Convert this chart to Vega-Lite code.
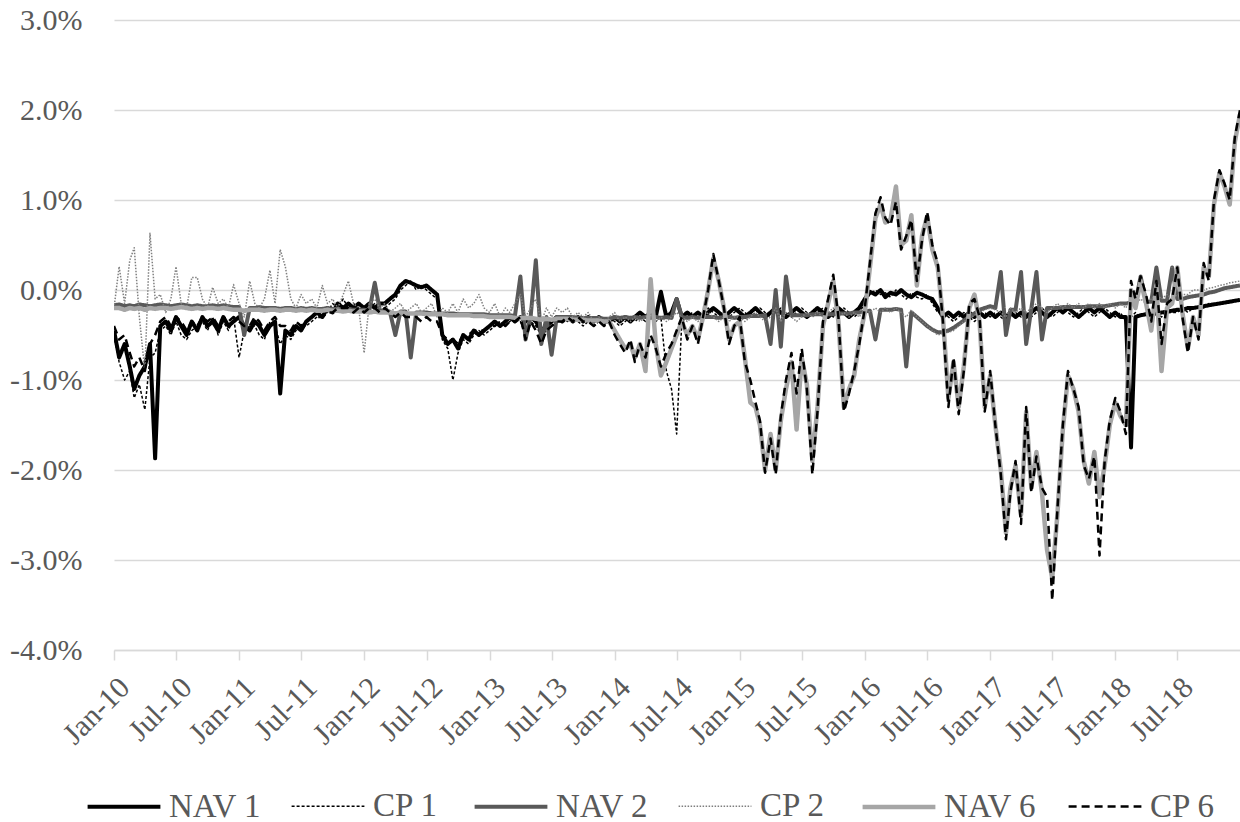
{
"$schema":"https://vega.github.io/schema/vega-lite/v6.json",
"width":1126,"height":630,
"autosize":{"type":"none"},
"padding":{"left":114,"top":20,"right":0,"bottom":172},
"background":"#ffffff",
"config":{"view":{"stroke":null},"font":"Liberation Serif"},
"data":{"values":[
{"d":"2010-01-01","NAV 1":-0.45,"CP 1":-0.5,"NAV 2":-0.17,"CP 2":-0.2,"NAV 6":-0.2,"CP 6":-0.4},
{"d":"2010-01-16","NAV 1":-0.75,"CP 1":-0.8,"NAV 2":-0.16,"CP 2":0.26,"NAV 6":-0.2,"CP 6":-0.55},
{"d":"2010-02-01","NAV 1":-0.6,"CP 1":-1.0,"NAV 2":-0.18,"CP 2":-0.15,"NAV 6":-0.22,"CP 6":-0.5},
{"d":"2010-02-16","NAV 1":-0.85,"CP 1":-0.9,"NAV 2":-0.17,"CP 2":0.33,"NAV 6":-0.2,"CP 6":-0.7},
{"d":"2010-03-01","NAV 1":-1.1,"CP 1":-1.2,"NAV 2":-0.18,"CP 2":0.47,"NAV 6":-0.21,"CP 6":-0.85},
{"d":"2010-03-16","NAV 1":-0.95,"CP 1":-1.05,"NAV 2":-0.16,"CP 2":-0.3,"NAV 6":-0.2,"CP 6":-0.75},
{"d":"2010-04-01","NAV 1":-0.85,"CP 1":-1.33,"NAV 2":-0.17,"CP 2":-0.9,"NAV 6":-0.22,"CP 6":-0.9},
{"d":"2010-04-16","NAV 1":-0.6,"CP 1":-0.75,"NAV 2":-0.18,"CP 2":0.63,"NAV 6":-0.2,"CP 6":-0.6},
{"d":"2010-05-01","NAV 1":-1.87,"CP 1":-0.7,"NAV 2":-0.17,"CP 2":-0.1,"NAV 6":-0.21,"CP 6":-0.5},
{"d":"2010-05-16","NAV 1":-0.4,"CP 1":-0.45,"NAV 2":-0.16,"CP 2":-0.05,"NAV 6":-0.2,"CP 6":-0.35},
{"d":"2010-06-01","NAV 1":-0.35,"CP 1":-0.4,"NAV 2":-0.17,"CP 2":-0.25,"NAV 6":-0.2,"CP 6":-0.3},
{"d":"2010-06-16","NAV 1":-0.45,"CP 1":-0.5,"NAV 2":-0.18,"CP 2":-0.1,"NAV 6":-0.21,"CP 6":-0.4},
{"d":"2010-07-01","NAV 1":-0.3,"CP 1":-0.35,"NAV 2":-0.17,"CP 2":0.26,"NAV 6":-0.2,"CP 6":-0.3},
{"d":"2010-07-16","NAV 1":-0.4,"CP 1":-0.5,"NAV 2":-0.16,"CP 2":-0.15,"NAV 6":-0.19,"CP 6":-0.35},
{"d":"2010-08-01","NAV 1":-0.5,"CP 1":-0.55,"NAV 2":-0.17,"CP 2":-0.2,"NAV 6":-0.2,"CP 6":-0.45},
{"d":"2010-08-16","NAV 1":-0.35,"CP 1":-0.45,"NAV 2":-0.18,"CP 2":0.14,"NAV 6":-0.21,"CP 6":-0.35},
{"d":"2010-09-01","NAV 1":-0.45,"CP 1":-0.4,"NAV 2":-0.17,"CP 2":0.14,"NAV 6":-0.2,"CP 6":-0.4},
{"d":"2010-09-16","NAV 1":-0.3,"CP 1":-0.35,"NAV 2":-0.18,"CP 2":-0.1,"NAV 6":-0.21,"CP 6":-0.3},
{"d":"2010-10-01","NAV 1":-0.4,"CP 1":-0.45,"NAV 2":-0.18,"CP 2":-0.2,"NAV 6":-0.2,"CP 6":-0.35},
{"d":"2010-10-16","NAV 1":-0.35,"CP 1":-0.3,"NAV 2":-0.17,"CP 2":0.03,"NAV 6":-0.2,"CP 6":-0.3},
{"d":"2010-11-01","NAV 1":-0.45,"CP 1":-0.5,"NAV 2":-0.18,"CP 2":-0.15,"NAV 6":-0.21,"CP 6":-0.4},
{"d":"2010-11-16","NAV 1":-0.3,"CP 1":-0.35,"NAV 2":-0.17,"CP 2":-0.1,"NAV 6":-0.2,"CP 6":-0.3},
{"d":"2010-12-01","NAV 1":-0.4,"CP 1":-0.45,"NAV 2":-0.18,"CP 2":-0.2,"NAV 6":-0.21,"CP 6":-0.35},
{"d":"2010-12-16","NAV 1":-0.35,"CP 1":-0.3,"NAV 2":-0.19,"CP 2":0.06,"NAV 6":-0.22,"CP 6":-0.3},
{"d":"2011-01-01","NAV 1":-0.3,"CP 1":-0.75,"NAV 2":-0.19,"CP 2":-0.15,"NAV 6":-0.22,"CP 6":-0.35},
{"d":"2011-01-16","NAV 1":-0.4,"CP 1":-0.45,"NAV 2":-0.5,"CP 2":-0.3,"NAV 6":-0.23,"CP 6":-0.4},
{"d":"2011-02-01","NAV 1":-0.45,"CP 1":-0.4,"NAV 2":-0.2,"CP 2":0.1,"NAV 6":-0.22,"CP 6":-0.4},
{"d":"2011-02-16","NAV 1":-0.35,"CP 1":-0.4,"NAV 2":-0.2,"CP 2":-0.15,"NAV 6":-0.22,"CP 6":-0.3},
{"d":"2011-03-01","NAV 1":-0.4,"CP 1":-0.5,"NAV 2":-0.19,"CP 2":-0.2,"NAV 6":-0.22,"CP 6":-0.35},
{"d":"2011-03-16","NAV 1":-0.5,"CP 1":-0.55,"NAV 2":-0.2,"CP 2":-0.1,"NAV 6":-0.23,"CP 6":-0.45},
{"d":"2011-04-01","NAV 1":-0.4,"CP 1":-0.35,"NAV 2":-0.2,"CP 2":0.22,"NAV 6":-0.22,"CP 6":-0.35},
{"d":"2011-04-16","NAV 1":-0.35,"CP 1":-0.4,"NAV 2":-0.2,"CP 2":-0.15,"NAV 6":-0.22,"CP 6":-0.3},
{"d":"2011-05-01","NAV 1":-1.15,"CP 1":-0.6,"NAV 2":-0.21,"CP 2":0.45,"NAV 6":-0.23,"CP 6":-0.4},
{"d":"2011-05-16","NAV 1":-0.45,"CP 1":-0.5,"NAV 2":-0.2,"CP 2":0.26,"NAV 6":-0.22,"CP 6":-0.4},
{"d":"2011-06-01","NAV 1":-0.5,"CP 1":-0.55,"NAV 2":-0.2,"CP 2":-0.1,"NAV 6":-0.22,"CP 6":-0.45},
{"d":"2011-06-16","NAV 1":-0.4,"CP 1":-0.45,"NAV 2":-0.21,"CP 2":-0.2,"NAV 6":-0.23,"CP 6":-0.35},
{"d":"2011-07-01","NAV 1":-0.45,"CP 1":-0.4,"NAV 2":-0.2,"CP 2":-0.05,"NAV 6":-0.22,"CP 6":-0.4},
{"d":"2011-07-16","NAV 1":-0.35,"CP 1":-0.4,"NAV 2":-0.21,"CP 2":-0.15,"NAV 6":-0.23,"CP 6":-0.35},
{"d":"2011-08-01","NAV 1":-0.3,"CP 1":-0.35,"NAV 2":-0.2,"CP 2":-0.1,"NAV 6":-0.22,"CP 6":-0.3},
{"d":"2011-08-16","NAV 1":-0.25,"CP 1":-0.3,"NAV 2":-0.21,"CP 2":-0.2,"NAV 6":-0.23,"CP 6":-0.3},
{"d":"2011-09-01","NAV 1":-0.3,"CP 1":-0.2,"NAV 2":-0.21,"CP 2":0.05,"NAV 6":-0.23,"CP 6":-0.3},
{"d":"2011-09-16","NAV 1":-0.2,"CP 1":-0.25,"NAV 2":-0.2,"CP 2":-0.15,"NAV 6":-0.22,"CP 6":-0.25},
{"d":"2011-10-01","NAV 1":-0.25,"CP 1":-0.15,"NAV 2":-0.21,"CP 2":-0.1,"NAV 6":-0.23,"CP 6":-0.25},
{"d":"2011-10-16","NAV 1":-0.15,"CP 1":-0.2,"NAV 2":-0.21,"CP 2":-0.2,"NAV 6":-0.23,"CP 6":-0.2},
{"d":"2011-11-01","NAV 1":-0.2,"CP 1":-0.1,"NAV 2":-0.22,"CP 2":-0.05,"NAV 6":-0.24,"CP 6":-0.2},
{"d":"2011-11-16","NAV 1":-0.15,"CP 1":-0.2,"NAV 2":-0.21,"CP 2":0.1,"NAV 6":-0.23,"CP 6":-0.2},
{"d":"2011-12-01","NAV 1":-0.2,"CP 1":-0.15,"NAV 2":-0.22,"CP 2":-0.15,"NAV 6":-0.24,"CP 6":-0.25},
{"d":"2011-12-16","NAV 1":-0.15,"CP 1":-0.2,"NAV 2":-0.22,"CP 2":-0.2,"NAV 6":-0.24,"CP 6":-0.2},
{"d":"2012-01-01","NAV 1":-0.2,"CP 1":-0.25,"NAV 2":-0.22,"CP 2":-0.7,"NAV 6":-0.24,"CP 6":-0.25},
{"d":"2012-01-16","NAV 1":-0.15,"CP 1":-0.2,"NAV 2":-0.23,"CP 2":-0.15,"NAV 6":-0.25,"CP 6":-0.2},
{"d":"2012-02-01","NAV 1":-0.2,"CP 1":-0.15,"NAV 2":0.08,"CP 2":-0.1,"NAV 6":-0.24,"CP 6":-0.2},
{"d":"2012-02-16","NAV 1":-0.15,"CP 1":-0.25,"NAV 2":-0.23,"CP 2":-0.2,"NAV 6":-0.25,"CP 6":-0.25},
{"d":"2012-03-01","NAV 1":-0.15,"CP 1":-0.2,"NAV 2":-0.23,"CP 2":-0.15,"NAV 6":-0.25,"CP 6":-0.2},
{"d":"2012-03-16","NAV 1":-0.1,"CP 1":-0.15,"NAV 2":-0.24,"CP 2":-0.25,"NAV 6":-0.25,"CP 6":-0.25},
{"d":"2012-04-01","NAV 1":-0.05,"CP 1":-0.1,"NAV 2":-0.5,"CP 2":-0.2,"NAV 6":-0.26,"CP 6":-0.3},
{"d":"2012-04-16","NAV 1":0.05,"CP 1":0.0,"NAV 2":-0.24,"CP 2":-0.15,"NAV 6":-0.25,"CP 6":-0.25},
{"d":"2012-05-01","NAV 1":0.1,"CP 1":0.05,"NAV 2":-0.24,"CP 2":-0.25,"NAV 6":-0.26,"CP 6":-0.3},
{"d":"2012-05-16","NAV 1":0.08,"CP 1":0.1,"NAV 2":-0.75,"CP 2":-0.2,"NAV 6":-0.26,"CP 6":-0.3},
{"d":"2012-06-01","NAV 1":0.05,"CP 1":0.0,"NAV 2":-0.25,"CP 2":-0.15,"NAV 6":-0.26,"CP 6":-0.3},
{"d":"2012-06-16","NAV 1":0.03,"CP 1":0.05,"NAV 2":-0.25,"CP 2":-0.25,"NAV 6":-0.26,"CP 6":-0.35},
{"d":"2012-07-01","NAV 1":0.05,"CP 1":0.0,"NAV 2":-0.25,"CP 2":-0.2,"NAV 6":-0.27,"CP 6":-0.3},
{"d":"2012-07-16","NAV 1":0.0,"CP 1":-0.05,"NAV 2":-0.26,"CP 2":-0.15,"NAV 6":-0.27,"CP 6":-0.35},
{"d":"2012-08-01","NAV 1":-0.05,"CP 1":-0.1,"NAV 2":-0.26,"CP 2":-0.3,"NAV 6":-0.27,"CP 6":-0.35},
{"d":"2012-08-16","NAV 1":-0.5,"CP 1":-0.55,"NAV 2":-0.26,"CP 2":-0.2,"NAV 6":-0.27,"CP 6":-0.5},
{"d":"2012-09-01","NAV 1":-0.6,"CP 1":-0.65,"NAV 2":-0.26,"CP 2":-0.25,"NAV 6":-0.28,"CP 6":-0.55},
{"d":"2012-09-16","NAV 1":-0.55,"CP 1":-1.0,"NAV 2":-0.26,"CP 2":-0.15,"NAV 6":-0.28,"CP 6":-0.55},
{"d":"2012-10-01","NAV 1":-0.65,"CP 1":-0.7,"NAV 2":-0.27,"CP 2":-0.25,"NAV 6":-0.28,"CP 6":-0.6},
{"d":"2012-10-16","NAV 1":-0.5,"CP 1":-0.55,"NAV 2":-0.27,"CP 2":-0.1,"NAV 6":-0.28,"CP 6":-0.5},
{"d":"2012-11-01","NAV 1":-0.55,"CP 1":-0.6,"NAV 2":-0.27,"CP 2":-0.2,"NAV 6":-0.28,"CP 6":-0.5},
{"d":"2012-11-16","NAV 1":-0.45,"CP 1":-0.5,"NAV 2":-0.27,"CP 2":-0.15,"NAV 6":-0.29,"CP 6":-0.45},
{"d":"2012-12-01","NAV 1":-0.5,"CP 1":-0.45,"NAV 2":-0.27,"CP 2":-0.05,"NAV 6":-0.29,"CP 6":-0.45},
{"d":"2012-12-16","NAV 1":-0.45,"CP 1":-0.5,"NAV 2":-0.27,"CP 2":-0.2,"NAV 6":-0.29,"CP 6":-0.45},
{"d":"2013-01-01","NAV 1":-0.4,"CP 1":-0.45,"NAV 2":-0.28,"CP 2":-0.25,"NAV 6":-0.3,"CP 6":-0.4},
{"d":"2013-01-16","NAV 1":-0.35,"CP 1":-0.4,"NAV 2":-0.28,"CP 2":-0.15,"NAV 6":-0.3,"CP 6":-0.4},
{"d":"2013-02-01","NAV 1":-0.4,"CP 1":-0.35,"NAV 2":-0.28,"CP 2":-0.3,"NAV 6":-0.3,"CP 6":-0.35},
{"d":"2013-02-16","NAV 1":-0.35,"CP 1":-0.4,"NAV 2":-0.28,"CP 2":-0.2,"NAV 6":-0.3,"CP 6":-0.4},
{"d":"2013-03-01","NAV 1":-0.3,"CP 1":-0.35,"NAV 2":-0.28,"CP 2":-0.25,"NAV 6":-0.3,"CP 6":-0.35},
{"d":"2013-03-16","NAV 1":-0.35,"CP 1":-0.3,"NAV 2":-0.29,"CP 2":-0.15,"NAV 6":-0.31,"CP 6":-0.35},
{"d":"2013-04-01","NAV 1":-0.3,"CP 1":-0.35,"NAV 2":0.15,"CP 2":-0.05,"NAV 6":-0.31,"CP 6":-0.3},
{"d":"2013-04-16","NAV 1":-0.35,"CP 1":-0.5,"NAV 2":-0.55,"CP 2":-0.3,"NAV 6":-0.31,"CP 6":-0.55},
{"d":"2013-05-01","NAV 1":-0.3,"CP 1":-0.35,"NAV 2":-0.29,"CP 2":-0.2,"NAV 6":-0.31,"CP 6":-0.35},
{"d":"2013-05-16","NAV 1":-0.35,"CP 1":-0.4,"NAV 2":0.33,"CP 2":-0.1,"NAV 6":-0.32,"CP 6":-0.45},
{"d":"2013-06-01","NAV 1":-0.45,"CP 1":-0.5,"NAV 2":-0.6,"CP 2":-0.35,"NAV 6":-0.33,"CP 6":-0.6},
{"d":"2013-06-16","NAV 1":-0.4,"CP 1":-0.45,"NAV 2":-0.3,"CP 2":-0.2,"NAV 6":-0.32,"CP 6":-0.45},
{"d":"2013-07-01","NAV 1":-0.35,"CP 1":-0.4,"NAV 2":-0.72,"CP 2":-0.3,"NAV 6":-0.33,"CP 6":-0.4},
{"d":"2013-07-16","NAV 1":-0.3,"CP 1":-0.35,"NAV 2":-0.3,"CP 2":-0.2,"NAV 6":-0.32,"CP 6":-0.35},
{"d":"2013-08-01","NAV 1":-0.35,"CP 1":-0.3,"NAV 2":-0.3,"CP 2":-0.25,"NAV 6":-0.32,"CP 6":-0.35},
{"d":"2013-08-16","NAV 1":-0.3,"CP 1":-0.35,"NAV 2":-0.3,"CP 2":-0.2,"NAV 6":-0.32,"CP 6":-0.3},
{"d":"2013-09-01","NAV 1":-0.35,"CP 1":-0.3,"NAV 2":-0.3,"CP 2":-0.3,"NAV 6":-0.33,"CP 6":-0.35},
{"d":"2013-09-16","NAV 1":-0.3,"CP 1":-0.35,"NAV 2":-0.31,"CP 2":-0.25,"NAV 6":-0.33,"CP 6":-0.3},
{"d":"2013-10-01","NAV 1":-0.35,"CP 1":-0.4,"NAV 2":-0.31,"CP 2":-0.3,"NAV 6":-0.33,"CP 6":-0.35},
{"d":"2013-10-16","NAV 1":-0.3,"CP 1":-0.35,"NAV 2":-0.31,"CP 2":-0.25,"NAV 6":-0.34,"CP 6":-0.35},
{"d":"2013-11-01","NAV 1":-0.35,"CP 1":-0.4,"NAV 2":-0.31,"CP 2":-0.35,"NAV 6":-0.34,"CP 6":-0.4},
{"d":"2013-11-16","NAV 1":-0.3,"CP 1":-0.35,"NAV 2":-0.31,"CP 2":-0.3,"NAV 6":-0.34,"CP 6":-0.35},
{"d":"2013-12-01","NAV 1":-0.35,"CP 1":-0.4,"NAV 2":-0.32,"CP 2":-0.35,"NAV 6":-0.35,"CP 6":-0.4},
{"d":"2013-12-16","NAV 1":-0.35,"CP 1":-0.3,"NAV 2":-0.32,"CP 2":-0.3,"NAV 6":-0.35,"CP 6":-0.35},
{"d":"2014-01-01","NAV 1":-0.3,"CP 1":-0.35,"NAV 2":-0.3,"CP 2":-0.25,"NAV 6":-0.45,"CP 6":-0.5},
{"d":"2014-01-16","NAV 1":-0.35,"CP 1":-0.4,"NAV 2":-0.31,"CP 2":-0.35,"NAV 6":-0.55,"CP 6":-0.6},
{"d":"2014-02-01","NAV 1":-0.3,"CP 1":-0.35,"NAV 2":-0.3,"CP 2":-0.3,"NAV 6":-0.65,"CP 6":-0.7},
{"d":"2014-02-16","NAV 1":-0.35,"CP 1":-0.3,"NAV 2":-0.31,"CP 2":-0.35,"NAV 6":-0.6,"CP 6":-0.55},
{"d":"2014-03-01","NAV 1":-0.3,"CP 1":-0.35,"NAV 2":-0.3,"CP 2":-0.3,"NAV 6":-0.75,"CP 6":-0.8},
{"d":"2014-03-16","NAV 1":-0.25,"CP 1":-0.3,"NAV 2":-0.31,"CP 2":-0.35,"NAV 6":-0.6,"CP 6":-0.6},
{"d":"2014-04-01","NAV 1":-0.3,"CP 1":-0.35,"NAV 2":-0.3,"CP 2":-0.3,"NAV 6":-0.9,"CP 6":-0.75},
{"d":"2014-04-16","NAV 1":-0.25,"CP 1":-0.3,"NAV 2":-0.31,"CP 2":-0.25,"NAV 6":0.12,"CP 6":-0.5},
{"d":"2014-05-01","NAV 1":-0.3,"CP 1":-0.35,"NAV 2":-0.3,"CP 2":-0.35,"NAV 6":-0.6,"CP 6":-0.65},
{"d":"2014-05-16","NAV 1":-0.02,"CP 1":-0.3,"NAV 2":-0.31,"CP 2":-0.3,"NAV 6":-0.95,"CP 6":-0.85},
{"d":"2014-06-01","NAV 1":-0.3,"CP 1":-0.9,"NAV 2":-0.3,"CP 2":-0.35,"NAV 6":-0.8,"CP 6":-0.7},
{"d":"2014-06-16","NAV 1":-0.25,"CP 1":-1.1,"NAV 2":-0.31,"CP 2":-0.3,"NAV 6":-0.65,"CP 6":-0.6},
{"d":"2014-07-01","NAV 1":-0.1,"CP 1":-1.6,"NAV 2":-0.1,"CP 2":-0.25,"NAV 6":-0.5,"CP 6":-0.45},
{"d":"2014-07-16","NAV 1":-0.3,"CP 1":-0.35,"NAV 2":-0.3,"CP 2":-0.3,"NAV 6":-0.35,"CP 6":-0.3},
{"d":"2014-08-01","NAV 1":-0.25,"CP 1":-0.3,"NAV 2":-0.31,"CP 2":-0.35,"NAV 6":-0.5,"CP 6":-0.55},
{"d":"2014-08-16","NAV 1":-0.3,"CP 1":-0.25,"NAV 2":-0.3,"CP 2":-0.3,"NAV 6":-0.4,"CP 6":-0.4},
{"d":"2014-09-01","NAV 1":-0.25,"CP 1":-0.3,"NAV 2":-0.31,"CP 2":-0.35,"NAV 6":-0.55,"CP 6":-0.6},
{"d":"2014-09-16","NAV 1":-0.3,"CP 1":-0.35,"NAV 2":-0.3,"CP 2":-0.3,"NAV 6":-0.3,"CP 6":-0.3},
{"d":"2014-10-01","NAV 1":-0.25,"CP 1":-0.2,"NAV 2":-0.3,"CP 2":-0.25,"NAV 6":0.0,"CP 6":0.0},
{"d":"2014-10-16","NAV 1":-0.2,"CP 1":-0.25,"NAV 2":-0.3,"CP 2":-0.3,"NAV 6":0.35,"CP 6":0.4},
{"d":"2014-11-01","NAV 1":-0.25,"CP 1":-0.3,"NAV 2":-0.31,"CP 2":-0.35,"NAV 6":0.1,"CP 6":0.1},
{"d":"2014-11-16","NAV 1":-0.3,"CP 1":-0.25,"NAV 2":-0.3,"CP 2":-0.3,"NAV 6":-0.2,"CP 6":-0.2},
{"d":"2014-12-01","NAV 1":-0.25,"CP 1":-0.3,"NAV 2":-0.3,"CP 2":-0.35,"NAV 6":-0.55,"CP 6":-0.6},
{"d":"2014-12-16","NAV 1":-0.2,"CP 1":-0.25,"NAV 2":-0.31,"CP 2":-0.3,"NAV 6":-0.4,"CP 6":-0.4},
{"d":"2015-01-01","NAV 1":-0.25,"CP 1":-0.2,"NAV 2":-0.3,"CP 2":-0.3,"NAV 6":-0.35,"CP 6":-0.3},
{"d":"2015-01-16","NAV 1":-0.3,"CP 1":-0.25,"NAV 2":-0.3,"CP 2":-0.35,"NAV 6":-0.75,"CP 6":-0.8},
{"d":"2015-02-01","NAV 1":-0.25,"CP 1":-0.3,"NAV 2":-0.29,"CP 2":-0.3,"NAV 6":-1.25,"CP 6":-1.0},
{"d":"2015-02-16","NAV 1":-0.2,"CP 1":-0.25,"NAV 2":-0.29,"CP 2":-0.25,"NAV 6":-1.3,"CP 6":-1.25},
{"d":"2015-03-01","NAV 1":-0.25,"CP 1":-0.2,"NAV 2":-0.29,"CP 2":-0.3,"NAV 6":-1.5,"CP 6":-1.45},
{"d":"2015-03-16","NAV 1":-0.3,"CP 1":-0.25,"NAV 2":-0.28,"CP 2":-0.35,"NAV 6":-2.0,"CP 6":-2.03},
{"d":"2015-04-01","NAV 1":-0.25,"CP 1":-0.3,"NAV 2":-0.6,"CP 2":-0.3,"NAV 6":-1.6,"CP 6":-1.65},
{"d":"2015-04-16","NAV 1":-0.2,"CP 1":-0.25,"NAV 2":0.0,"CP 2":-0.2,"NAV 6":-2.0,"CP 6":-2.05},
{"d":"2015-05-01","NAV 1":-0.25,"CP 1":-0.2,"NAV 2":-0.63,"CP 2":-0.35,"NAV 6":-1.45,"CP 6":-1.4},
{"d":"2015-05-16","NAV 1":-0.3,"CP 1":-0.25,"NAV 2":0.15,"CP 2":-0.25,"NAV 6":-1.1,"CP 6":-1.0},
{"d":"2015-06-01","NAV 1":-0.25,"CP 1":-0.3,"NAV 2":-0.28,"CP 2":-0.3,"NAV 6":-0.8,"CP 6":-0.7},
{"d":"2015-06-16","NAV 1":-0.2,"CP 1":-0.25,"NAV 2":-0.28,"CP 2":-0.35,"NAV 6":-1.55,"CP 6":-1.15},
{"d":"2015-07-01","NAV 1":-0.25,"CP 1":-0.2,"NAV 2":-0.28,"CP 2":-0.3,"NAV 6":-0.75,"CP 6":-0.65},
{"d":"2015-07-16","NAV 1":-0.3,"CP 1":-0.25,"NAV 2":-0.28,"CP 2":-0.25,"NAV 6":-1.05,"CP 6":-1.1},
{"d":"2015-08-01","NAV 1":-0.25,"CP 1":-0.3,"NAV 2":-0.27,"CP 2":-0.3,"NAV 6":-1.9,"CP 6":-2.05},
{"d":"2015-08-16","NAV 1":-0.2,"CP 1":-0.25,"NAV 2":-0.27,"CP 2":-0.25,"NAV 6":-1.3,"CP 6":-1.35},
{"d":"2015-09-01","NAV 1":-0.25,"CP 1":-0.2,"NAV 2":-0.27,"CP 2":-0.3,"NAV 6":-0.4,"CP 6":-0.35},
{"d":"2015-09-16","NAV 1":-0.3,"CP 1":-0.25,"NAV 2":-0.27,"CP 2":-0.25,"NAV 6":-0.15,"CP 6":-0.1},
{"d":"2015-10-01","NAV 1":-0.25,"CP 1":-0.3,"NAV 2":-0.27,"CP 2":-0.2,"NAV 6":0.1,"CP 6":0.17},
{"d":"2015-10-16","NAV 1":-0.2,"CP 1":-0.25,"NAV 2":-0.26,"CP 2":-0.3,"NAV 6":-0.35,"CP 6":-0.3},
{"d":"2015-11-01","NAV 1":-0.25,"CP 1":-0.2,"NAV 2":-0.26,"CP 2":-0.25,"NAV 6":-1.3,"CP 6":-1.35},
{"d":"2015-11-16","NAV 1":-0.3,"CP 1":-0.25,"NAV 2":-0.26,"CP 2":-0.3,"NAV 6":-1.1,"CP 6":-1.15},
{"d":"2015-12-01","NAV 1":-0.25,"CP 1":-0.3,"NAV 2":-0.25,"CP 2":-0.25,"NAV 6":-0.95,"CP 6":-0.9},
{"d":"2015-12-16","NAV 1":-0.2,"CP 1":-0.25,"NAV 2":-0.25,"CP 2":-0.3,"NAV 6":-0.55,"CP 6":-0.6},
{"d":"2016-01-01","NAV 1":-0.1,"CP 1":-0.15,"NAV 2":-0.24,"CP 2":-0.2,"NAV 6":-0.25,"CP 6":-0.2},
{"d":"2016-01-16","NAV 1":-0.02,"CP 1":-0.05,"NAV 2":-0.23,"CP 2":-0.25,"NAV 6":0.25,"CP 6":0.3},
{"d":"2016-02-01","NAV 1":-0.05,"CP 1":0.0,"NAV 2":-0.55,"CP 2":-0.2,"NAV 6":0.8,"CP 6":0.85},
{"d":"2016-02-16","NAV 1":0.0,"CP 1":-0.05,"NAV 2":-0.22,"CP 2":-0.25,"NAV 6":0.95,"CP 6":1.03},
{"d":"2016-03-01","NAV 1":-0.08,"CP 1":-0.03,"NAV 2":-0.22,"CP 2":-0.2,"NAV 6":0.75,"CP 6":0.8},
{"d":"2016-03-16","NAV 1":-0.03,"CP 1":-0.08,"NAV 2":-0.22,"CP 2":-0.25,"NAV 6":0.78,"CP 6":0.72},
{"d":"2016-04-01","NAV 1":-0.05,"CP 1":0.0,"NAV 2":-0.21,"CP 2":-0.2,"NAV 6":1.15,"CP 6":0.98},
{"d":"2016-04-16","NAV 1":0.0,"CP 1":-0.05,"NAV 2":-0.22,"CP 2":-0.25,"NAV 6":0.5,"CP 6":0.45},
{"d":"2016-05-01","NAV 1":-0.05,"CP 1":-0.1,"NAV 2":-0.85,"CP 2":-0.3,"NAV 6":0.55,"CP 6":0.6},
{"d":"2016-05-16","NAV 1":-0.08,"CP 1":-0.03,"NAV 2":-0.25,"CP 2":-0.22,"NAV 6":0.83,"CP 6":0.78},
{"d":"2016-06-01","NAV 1":-0.03,"CP 1":-0.08,"NAV 2":-0.3,"CP 2":-0.3,"NAV 6":0.05,"CP 6":0.1},
{"d":"2016-06-16","NAV 1":-0.05,"CP 1":-0.1,"NAV 2":-0.35,"CP 2":-0.35,"NAV 6":0.6,"CP 6":0.55},
{"d":"2016-07-01","NAV 1":-0.08,"CP 1":-0.05,"NAV 2":-0.4,"CP 2":-0.4,"NAV 6":0.82,"CP 6":0.87},
{"d":"2016-07-16","NAV 1":-0.1,"CP 1":-0.15,"NAV 2":-0.44,"CP 2":-0.45,"NAV 6":0.45,"CP 6":0.5},
{"d":"2016-08-01","NAV 1":-0.2,"CP 1":-0.25,"NAV 2":-0.47,"CP 2":-0.5,"NAV 6":0.25,"CP 6":0.3},
{"d":"2016-08-16","NAV 1":-0.3,"CP 1":-0.25,"NAV 2":-0.47,"CP 2":-0.48,"NAV 6":-0.3,"CP 6":-0.35},
{"d":"2016-09-01","NAV 1":-0.25,"CP 1":-0.3,"NAV 2":-0.45,"CP 2":-0.47,"NAV 6":-1.2,"CP 6":-1.3},
{"d":"2016-09-16","NAV 1":-0.3,"CP 1":-0.35,"NAV 2":-0.42,"CP 2":-0.45,"NAV 6":-0.8,"CP 6":-0.75},
{"d":"2016-10-01","NAV 1":-0.25,"CP 1":-0.3,"NAV 2":-0.38,"CP 2":-0.4,"NAV 6":-1.3,"CP 6":-1.38},
{"d":"2016-10-16","NAV 1":-0.3,"CP 1":-0.25,"NAV 2":-0.34,"CP 2":-0.35,"NAV 6":-0.85,"CP 6":-0.9},
{"d":"2016-11-01","NAV 1":-0.25,"CP 1":-0.3,"NAV 2":-0.3,"CP 2":-0.32,"NAV 6":-0.2,"CP 6":-0.15},
{"d":"2016-11-16","NAV 1":-0.3,"CP 1":-0.35,"NAV 2":-0.26,"CP 2":-0.28,"NAV 6":-0.05,"CP 6":-0.1},
{"d":"2016-12-01","NAV 1":-0.25,"CP 1":-0.3,"NAV 2":-0.22,"CP 2":-0.25,"NAV 6":-0.35,"CP 6":-0.3},
{"d":"2016-12-16","NAV 1":-0.3,"CP 1":-0.25,"NAV 2":-0.2,"CP 2":-0.22,"NAV 6":-1.3,"CP 6":-1.35},
{"d":"2017-01-01","NAV 1":-0.25,"CP 1":-0.3,"NAV 2":-0.18,"CP 2":-0.2,"NAV 6":-0.95,"CP 6":-0.9},
{"d":"2017-01-16","NAV 1":-0.3,"CP 1":-0.25,"NAV 2":-0.2,"CP 2":-0.22,"NAV 6":-1.5,"CP 6":-1.5},
{"d":"2017-02-01","NAV 1":-0.25,"CP 1":-0.3,"NAV 2":0.2,"CP 2":-0.25,"NAV 6":-2.0,"CP 6":-2.05},
{"d":"2017-02-16","NAV 1":-0.3,"CP 1":-0.35,"NAV 2":-0.5,"CP 2":-0.3,"NAV 6":-2.7,"CP 6":-2.77},
{"d":"2017-03-01","NAV 1":-0.25,"CP 1":-0.3,"NAV 2":-0.22,"CP 2":-0.2,"NAV 6":-2.2,"CP 6":-2.25},
{"d":"2017-03-16","NAV 1":-0.3,"CP 1":-0.25,"NAV 2":-0.22,"CP 2":-0.25,"NAV 6":-1.95,"CP 6":-1.9},
{"d":"2017-04-01","NAV 1":-0.25,"CP 1":-0.3,"NAV 2":0.2,"CP 2":-0.2,"NAV 6":-2.5,"CP 6":-2.6},
{"d":"2017-04-16","NAV 1":-0.3,"CP 1":-0.25,"NAV 2":-0.6,"CP 2":-0.25,"NAV 6":-1.35,"CP 6":-1.3},
{"d":"2017-05-01","NAV 1":-0.25,"CP 1":-0.3,"NAV 2":-0.21,"CP 2":-0.2,"NAV 6":-2.2,"CP 6":-2.25},
{"d":"2017-05-16","NAV 1":-0.2,"CP 1":-0.25,"NAV 2":0.2,"CP 2":-0.15,"NAV 6":-1.8,"CP 6":-1.85},
{"d":"2017-06-01","NAV 1":-0.25,"CP 1":-0.2,"NAV 2":-0.55,"CP 2":-0.2,"NAV 6":-2.25,"CP 6":-2.2},
{"d":"2017-06-16","NAV 1":-0.3,"CP 1":-0.25,"NAV 2":-0.2,"CP 2":-0.25,"NAV 6":-2.89,"CP 6":-2.3},
{"d":"2017-07-01","NAV 1":-0.25,"CP 1":-0.3,"NAV 2":-0.2,"CP 2":-0.2,"NAV 6":-3.2,"CP 6":-3.45},
{"d":"2017-07-16","NAV 1":-0.2,"CP 1":-0.25,"NAV 2":-0.2,"CP 2":-0.15,"NAV 6":-2.5,"CP 6":-2.45},
{"d":"2017-08-01","NAV 1":-0.25,"CP 1":-0.2,"NAV 2":-0.19,"CP 2":-0.2,"NAV 6":-1.55,"CP 6":-1.5},
{"d":"2017-08-16","NAV 1":-0.2,"CP 1":-0.25,"NAV 2":-0.19,"CP 2":-0.15,"NAV 6":-0.95,"CP 6":-0.9},
{"d":"2017-09-01","NAV 1":-0.25,"CP 1":-0.3,"NAV 2":-0.19,"CP 2":-0.2,"NAV 6":-1.1,"CP 6":-1.1},
{"d":"2017-09-16","NAV 1":-0.3,"CP 1":-0.25,"NAV 2":-0.19,"CP 2":-0.15,"NAV 6":-1.35,"CP 6":-1.3},
{"d":"2017-10-01","NAV 1":-0.25,"CP 1":-0.2,"NAV 2":-0.19,"CP 2":-0.2,"NAV 6":-1.9,"CP 6":-1.95},
{"d":"2017-10-16","NAV 1":-0.2,"CP 1":-0.25,"NAV 2":-0.18,"CP 2":-0.15,"NAV 6":-2.15,"CP 6":-2.1},
{"d":"2017-11-01","NAV 1":-0.25,"CP 1":-0.3,"NAV 2":-0.18,"CP 2":-0.2,"NAV 6":-1.8,"CP 6":-1.85},
{"d":"2017-11-16","NAV 1":-0.2,"CP 1":-0.25,"NAV 2":-0.18,"CP 2":-0.15,"NAV 6":-2.3,"CP 6":-2.95},
{"d":"2017-12-01","NAV 1":-0.25,"CP 1":-0.2,"NAV 2":-0.18,"CP 2":-0.2,"NAV 6":-1.95,"CP 6":-1.9},
{"d":"2017-12-16","NAV 1":-0.3,"CP 1":-0.25,"NAV 2":-0.17,"CP 2":-0.15,"NAV 6":-1.5,"CP 6":-1.45},
{"d":"2018-01-01","NAV 1":-0.25,"CP 1":-0.3,"NAV 2":-0.16,"CP 2":-0.2,"NAV 6":-1.25,"CP 6":-1.2},
{"d":"2018-01-16","NAV 1":-0.3,"CP 1":-0.25,"NAV 2":-0.15,"CP 2":-0.15,"NAV 6":-1.4,"CP 6":-1.35},
{"d":"2018-02-01","NAV 1":-0.3,"CP 1":-0.35,"NAV 2":-0.15,"CP 2":-0.2,"NAV 6":-1.5,"CP 6":-1.6},
{"d":"2018-02-16","NAV 1":-1.75,"CP 1":-0.3,"NAV 2":-0.14,"CP 2":-0.1,"NAV 6":0.0,"CP 6":0.1},
{"d":"2018-03-01","NAV 1":-0.3,"CP 1":-0.25,"NAV 2":-0.14,"CP 2":-0.15,"NAV 6":-0.2,"CP 6":-0.1},
{"d":"2018-03-16","NAV 1":-0.28,"CP 1":-0.3,"NAV 2":0.15,"CP 2":-0.1,"NAV 6":0.1,"CP 6":0.15},
{"d":"2018-04-01","NAV 1":-0.27,"CP 1":-0.25,"NAV 2":-0.13,"CP 2":-0.15,"NAV 6":-0.15,"CP 6":-0.05},
{"d":"2018-04-16","NAV 1":-0.27,"CP 1":-0.3,"NAV 2":-0.13,"CP 2":-0.1,"NAV 6":-0.45,"CP 6":-0.35},
{"d":"2018-05-01","NAV 1":-0.26,"CP 1":-0.25,"NAV 2":0.25,"CP 2":-0.05,"NAV 6":0.05,"CP 6":0.1},
{"d":"2018-05-16","NAV 1":-0.25,"CP 1":-0.3,"NAV 2":-0.12,"CP 2":-0.1,"NAV 6":-0.9,"CP 6":-0.6},
{"d":"2018-06-01","NAV 1":-0.24,"CP 1":-0.25,"NAV 2":-0.12,"CP 2":-0.05,"NAV 6":-0.2,"CP 6":-0.15},
{"d":"2018-06-16","NAV 1":-0.23,"CP 1":-0.25,"NAV 2":0.25,"CP 2":-0.1,"NAV 6":-0.15,"CP 6":-0.1},
{"d":"2018-07-01","NAV 1":-0.22,"CP 1":-0.25,"NAV 2":-0.1,"CP 2":-0.05,"NAV 6":0.25,"CP 6":0.25},
{"d":"2018-07-16","NAV 1":-0.22,"CP 1":-0.2,"NAV 2":-0.1,"CP 2":-0.05,"NAV 6":-0.25,"CP 6":-0.3},
{"d":"2018-08-01","NAV 1":-0.2,"CP 1":-0.25,"NAV 2":-0.08,"CP 2":-0.05,"NAV 6":-0.65,"CP 6":-0.7},
{"d":"2018-08-16","NAV 1":-0.2,"CP 1":-0.2,"NAV 2":-0.07,"CP 2":0.0,"NAV 6":-0.3,"CP 6":-0.3},
{"d":"2018-09-01","NAV 1":-0.19,"CP 1":-0.2,"NAV 2":-0.06,"CP 2":0.0,"NAV 6":-0.5,"CP 6":-0.55},
{"d":"2018-09-16","NAV 1":-0.18,"CP 1":-0.2,"NAV 2":-0.05,"CP 2":0.0,"NAV 6":0.25,"CP 6":0.3},
{"d":"2018-10-01","NAV 1":-0.17,"CP 1":-0.15,"NAV 2":-0.03,"CP 2":0.02,"NAV 6":0.15,"CP 6":0.1},
{"d":"2018-10-16","NAV 1":-0.16,"CP 1":-0.15,"NAV 2":-0.02,"CP 2":0.03,"NAV 6":0.95,"CP 6":1.0},
{"d":"2018-11-01","NAV 1":-0.15,"CP 1":-0.15,"NAV 2":0.0,"CP 2":0.05,"NAV 6":1.3,"CP 6":1.33},
{"d":"2018-11-16","NAV 1":-0.14,"CP 1":-0.13,"NAV 2":0.02,"CP 2":0.06,"NAV 6":1.15,"CP 6":1.18},
{"d":"2018-12-01","NAV 1":-0.13,"CP 1":-0.12,"NAV 2":0.03,"CP 2":0.08,"NAV 6":0.95,"CP 6":1.0},
{"d":"2018-12-16","NAV 1":-0.12,"CP 1":-0.12,"NAV 2":0.04,"CP 2":0.09,"NAV 6":1.65,"CP 6":1.7},
{"d":"2018-12-31","NAV 1":-0.11,"CP 1":-0.1,"NAV 2":0.05,"CP 2":0.1,"NAV 6":1.95,"CP 6":2.0}
]},
"transform":[{"fold":["NAV 1","CP 1","NAV 2","CP 2","NAV 6","CP 6"],"as":["series","v"]}],
"mark":{"type":"line","strokeJoin":"round","strokeCap":"butt","clip":true},
"encoding":{
"x":{"field":"d","type":"temporal",
"scale":{"type":"utc","nice":false,"domain":[{"year":2010,"month":1,"date":1,"utc":true},{"year":2018,"month":12,"date":31,"utc":true}]},
"axis":{"title":null,"grid":false,"tickCount":{"interval":"month","step":6},"format":"%b-%y","labelAngle":-45,
"labelFont":"Liberation Serif","labelFontSize":30,"labelColor":"#595959","labelPadding":12,"labelOverlap":false,"labelFlush":false,
"tickColor":"#d9d9d9","tickSize":10,"tickWidth":1.5,"domainColor":"#d9d9d9","domainWidth":1.5}},
"y":{"field":"v","type":"quantitative",
"scale":{"domain":[-4,3],"nice":false,"zero":false},
"axis":{"title":null,"values":[-4,-3,-2,-1,0,1,2,3],"labelExpr":"(datum.value < 0 ? '-' : '') + format(abs(datum.value), '.1f') + '%'",
"grid":true,"gridColor":"#d9d9d9","gridWidth":1.5,"domain":false,"ticks":false,"tickSize":0,"labelPadding":32,
"labelFont":"Liberation Serif","labelFontSize":30,"labelColor":"#595959"}},
"color":{"field":"series","type":"nominal",
"scale":{"domain":["NAV 1","CP 1","NAV 2","CP 2","NAV 6","CP 6"],"range":["#000000","#000000","#595959","#7f7f7f","#a6a6a6","#000000"]},
"legend":{"title":null,"orient":"none","legendX":-29,"legendY":748,"direction":"horizontal","columns":6,"symbolType":"stroke","symbolSize":5300,
"labelFont":"Liberation Serif","labelFontSize":33,"labelColor":"#595959","columnPadding":27,"labelOffset":6,"labelLimit":300}},
"strokeDash":{"field":"series","type":"nominal",
"scale":{"domain":["NAV 1","CP 1","NAV 2","CP 2","NAV 6","CP 6"],"range":[[1,0],[3,2],[1,0],[1.5,1.5],[1,0],[8,5]]}},
"strokeWidth":{"field":"series","type":"nominal",
"scale":{"type":"ordinal","domain":["NAV 1","CP 1","NAV 2","CP 2","NAV 6","CP 6"],"range":[4,1.5,4,1.5,4.5,2.5]}}
}
}
